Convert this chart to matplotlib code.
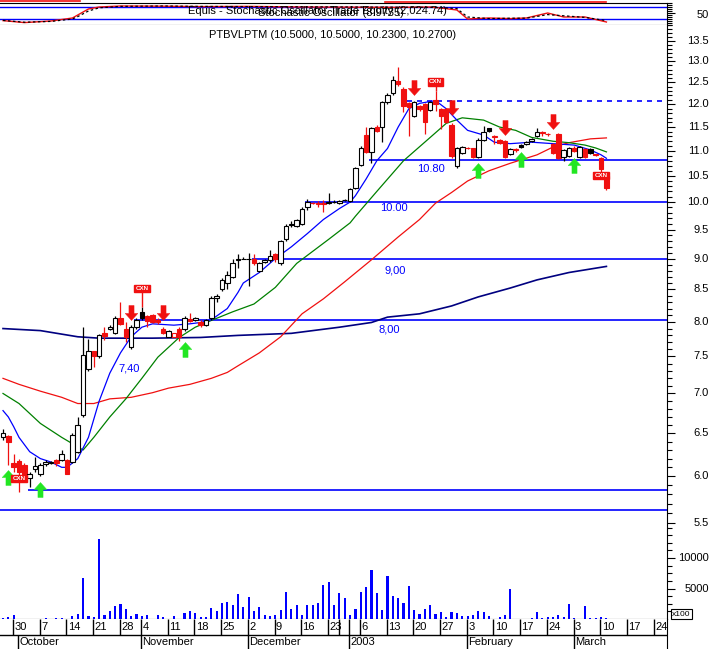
import numpy as np
import pandas as pd
import matplotlib
matplotlib.use("Agg")
import matplotlib.pyplot as plt
from matplotlib.lines import Line2D
from matplotlib.path import Path
from matplotlib.ticker import FixedLocator, NullFormatter

plt.rcParams['font.family'] = ['Liberation Sans', 'DejaVu Sans']

# Trading calendar (holidays removed so the week ticks land where they should)
first_day = "2002-09-26"
last_day = "2003-03-28"
holidays = ["2002-11-01", "2002-12-25", "2002-12-26", "2002-12-27", "2003-01-01"]

# Daily candles, 26 Sep 2002 .. 11 Mar 2003
opens = [
    6.46, 6.47, 6.15, 6.17, 6.13, 5.98, 6.08, 6.03, 6.14, 6.15,
    6.18, 6.18, 6.18, 6.16, 6.28, 6.72, 7.33, 7.57, 7.50, 7.83,
    7.90, 7.83, 8.05, 7.90, 7.64, 7.93, 8.15, 8.08, 8.10, 8.03,
    7.90, 7.78, 7.78, 7.90, 7.89, 8.04, 8.03, 8.00, 7.95, 8.05,
    8.37, 8.50, 8.60, 8.70, 8.98, 9.00, 9.00, 9.00, 8.80, 8.95,
    8.97, 9.08, 8.93, 9.33, 9.58, 9.57, 9.60, 9.90, 9.99, 9.98,
    9.98, 9.98, 10.00, 9.98, 10.03, 10.02, 10.26, 10.72, 11.33, 10.98,
    11.50, 11.50, 12.05, 12.25, 12.52, 12.35, 12.02, 11.75, 11.95, 12.00,
    11.88, 12.10, 11.90, 11.90, 11.55, 10.70, 10.96, 11.07, 11.06, 10.87,
    11.23, 11.47, 11.29, 11.23, 11.20, 10.94, 11.03, 11.12, 11.15, 11.20,
    11.30, 11.39, 11.36, 11.15, 11.35, 10.87, 10.89, 11.06, 10.87, 11.04,
    11.04, 10.93, 10.85, 10.50]
highs = [
    6.55, 6.48, 6.25, 6.20, 6.15, 6.05, 6.22, 6.15, 6.18, 6.17,
    6.20, 6.30, 6.20, 6.50, 6.70, 7.92, 7.75, 7.58, 7.82, 7.93,
    7.95, 8.08, 8.30, 8.00, 7.95, 8.05, 8.22, 8.10, 8.12, 8.05,
    7.92, 7.88, 7.84, 7.92, 8.08, 8.13, 8.07, 8.02, 8.04, 8.40,
    8.42, 8.68, 8.80, 9.00, 9.08, 9.02, 9.10, 9.08, 8.95, 9.00,
    9.15, 9.10, 9.32, 9.60, 9.65, 9.69, 9.90, 10.05, 10.00, 10.02,
    10.03, 10.17, 10.03, 10.04, 10.06, 10.26, 10.67, 11.10, 11.50, 11.50,
    11.55, 12.07, 12.25, 12.65, 12.85, 12.38, 12.05, 12.08, 11.98, 12.02,
    12.08, 12.30, 11.92, 11.92, 11.58, 11.08, 11.10, 11.08, 11.07, 11.26,
    11.52, 11.49, 11.33, 11.24, 11.22, 11.06, 11.06, 11.14, 11.20, 11.27,
    11.48, 11.42, 11.38, 11.17, 11.37, 11.04, 11.08, 11.10, 11.10, 11.06,
    11.05, 10.94, 10.87, 10.50]
lows = [
    6.42, 6.13, 6.05, 5.83, 5.98, 5.88, 6.05, 6.00, 6.12, 6.14,
    6.12, 6.17, 6.02, 6.15, 6.26, 6.70, 7.30, 7.35, 7.48, 7.73,
    7.88, 7.82, 7.95, 7.70, 7.60, 7.90, 8.03, 7.93, 7.98, 7.97,
    7.82, 7.77, 7.77, 7.72, 7.87, 8.00, 8.01, 7.93, 7.94, 8.03,
    8.30, 8.48, 8.50, 8.68, 8.85, 8.99, 8.55, 8.90, 8.78, 8.93,
    8.95, 8.95, 8.90, 9.30, 9.55, 9.55, 9.58, 9.85, 9.96, 9.90,
    9.82, 9.97, 9.98, 9.96, 10.02, 10.00, 10.24, 10.70, 10.95, 10.75,
    11.40, 11.18, 12.00, 12.20, 12.42, 11.82, 11.32, 11.72, 11.85, 11.35,
    11.85, 11.85, 11.45, 11.58, 10.85, 10.65, 10.94, 11.04, 10.85, 10.85,
    11.20, 11.40, 11.15, 11.15, 10.85, 10.92, 10.98, 11.06, 11.13, 11.18,
    11.28, 11.30, 11.30, 10.93, 10.83, 10.80, 10.87, 10.97, 10.85, 10.85,
    10.94, 10.90, 10.55, 10.23]
closes = [
    6.50, 6.40, 6.10, 6.05, 6.00, 6.02, 6.12, 6.13, 6.16, 6.16,
    6.15, 6.25, 6.03, 6.48, 6.60, 7.52, 7.57, 7.50, 7.80, 7.79,
    7.93, 8.05, 7.97, 7.77, 7.92, 8.03, 8.05, 8.01, 8.00, 7.99,
    7.84, 7.87, 7.83, 7.77, 8.05, 8.01, 8.05, 7.95, 8.02, 8.37,
    8.40, 8.65, 8.73, 8.92, 9.00, 9.00, 9.00, 8.92, 8.93, 8.98,
    9.05, 9.00, 9.30, 9.57, 9.60, 9.67, 9.88, 10.00, 9.98, 9.97,
    9.96, 10.00, 10.00, 10.02, 10.04, 10.24, 10.65, 11.06, 10.98, 11.48,
    11.42, 12.05, 12.20, 12.55, 12.45, 11.95, 11.93, 12.05, 11.90, 11.60,
    12.05, 12.00, 11.75, 11.60, 10.90, 11.05, 11.08, 11.06, 10.87, 11.23,
    11.40, 11.42, 11.31, 11.17, 10.87, 11.04, 11.02, 11.08, 11.18, 11.25,
    11.40, 11.38, 11.35, 10.95, 10.85, 11.02, 11.06, 10.99, 11.08, 10.87,
    10.96, 10.92, 10.63, 10.27]
# volume in hundreds
volume = [
    160, 270, 700, 0, 55, 55, 55, 55, 110, 55,
    110, 110, 0, 540, 860, 6670, 540, 320, 13060, 650,
    1240, 2200, 2470, 1610, 540, 810, 540, 650, 55, 650,
    320, 0, 540, 55, 970, 1340, 970, 270, 320, 1770,
    1340, 2580, 2800, 2310, 4090, 1940, 3660, 1340, 2040, 700,
    540, 650, 1400, 4350, 1670, 2370, 650, 2370, 2310, 2690,
    5540, 6080, 2310, 4300, 3390, 650, 1670, 4350, 5270, 8120,
    4300, 1500, 7040, 3760, 3390, 2580, 5480, 1500, 810, 1610,
    2370, 810, 1180, 320, 1180, 1020, 540, 540, 650, 1240,
    1180, 430, 0, 320, 650, 5000, 55, 55, 55, 160,
    1180, 160, 320, 320, 650, 380, 2420, 160, 55, 2150,
    160, 160, 270, 160]

# Moving averages (day index, value)
blue_days = [0, 1, 2, 3, 5, 7, 9, 11, 12, 14, 16, 18, 20, 22, 24, 26, 28, 32, 35, 37,
             39, 42, 44, 45, 48, 51, 54, 57, 60, 63, 65, 66, 68, 70, 72, 74, 76, 78, 81, 83,
             85, 87, 90, 92, 95, 99, 103, 107, 110, 112, 113]
blue_vals = [6.78, 6.70, 6.58, 6.45, 6.28, 6.20, 6.16, 6.10, 6.10, 6.20, 6.45, 6.90, 7.27, 7.55, 7.78, 7.92, 7.97, 7.95, 7.97, 7.99,
             8.03, 8.20, 8.45, 8.60, 8.77, 9.00, 9.20, 9.43, 9.68, 9.88, 10.00, 10.12, 10.44, 10.80, 11.05, 11.50, 11.90, 12.02, 12.08, 11.90,
             11.65, 11.43, 11.33, 11.18, 11.15, 11.18, 11.15, 11.12, 11.02, 10.92, 10.85]
green_days = [0, 3, 7, 11, 15, 17, 20, 23, 26, 29, 33, 36, 39, 43, 47, 51, 55, 61, 65, 66,
              70, 75, 80, 83, 86, 90, 93, 96, 99, 103, 106, 109, 111, 113]
green_vals = [7.00, 6.87, 6.62, 6.45, 6.30, 6.45, 6.70, 6.93, 7.20, 7.49, 7.77, 7.92, 8.02, 8.15, 8.27, 8.53, 8.92, 9.33, 9.62, 9.74,
              10.20, 10.80, 11.28, 11.58, 11.70, 11.65, 11.50, 11.43, 11.28, 11.20, 11.17, 11.12, 11.06, 10.98]
red_days = [0, 3, 7, 11, 14, 17, 20, 24, 28, 31, 35, 39, 42, 44, 48, 52, 56, 60, 64, 69,
            74, 78, 81, 84, 87, 91, 95, 100, 103, 106, 110, 113]
red_vals = [7.20, 7.12, 7.03, 6.95, 6.87, 6.87, 6.93, 6.95, 7.01, 7.07, 7.12, 7.20, 7.28, 7.37, 7.55, 7.78, 8.12, 8.35, 8.62, 8.98,
            9.37, 9.68, 9.98, 10.18, 10.40, 10.60, 10.75, 10.92, 11.08, 11.17, 11.25, 11.27]
navy_days = [0, 7, 14, 18, 28, 37, 44, 54, 63, 69, 72, 78, 84, 89, 95, 100, 106, 113]
navy_vals = [7.90, 7.87, 7.78, 7.76, 7.76, 7.77, 7.80, 7.83, 7.92, 7.99, 8.07, 8.12, 8.24, 8.38, 8.52, 8.65, 8.77, 8.87]

# Stochastic panel
stoch_days = [0, 4, 9, 13, 14, 16, 18, 22, 30, 37, 46, 56, 66, 74, 80, 82, 85, 87, 91, 95, 98, 102, 105, 109, 113]
stoch_k = [12, 2, 10, 25, 40, 70, 80, 85, 84, 82, 83, 80, 79, 78, 80, 75, 65, 20, 25, 22, 25, 50, 30, 30, 5]
stoch_d = [13, 4, 8, 20, 32, 60, 76, 83, 85, 83, 82, 81, 80, 79, 78, 77, 72, 30, 22, 24, 24, 42, 36, 28, 12]

# Support / resistance lines
level_prices = [12.08, 10.82, 10.00, 9.00, 8.02, 5.85, 5.63]
level_starts = [76, 69, 57, 47, 25, 5, -1]
level_dashed = [True, False, False, False, False, False, False]
label_texts = ["10.80", "10.00", "9,00", "8,00", "7,40"]
label_days = [80.1, 73.2, 73.4, 72.3, 23.6]
label_prices = [10.63, 9.89, 8.81, 7.88, 7.34]

# Signals
sell_days = [24, 30, 77, 84, 94, 103]
sell_tips = [8.03, 8.02, 12.21, 11.76, 11.33, 11.46]
buy_days = [1, 7, 34, 89, 97, 107]
buy_tips = [6.07, 5.94, 7.71, 10.76, 10.98, 10.86]
cxn_days = [3, 26, 81, 112]
cxn_prices = [5.975, 8.51, 12.51, 10.51]

RED = '#f01010'
BLUE = '#0000ff'
GREEN = '#008000'
NAVY = '#000080'
ARROW_GREEN = '#22e622'

days = pd.bdate_range(first_day, last_day)
days = days[~days.isin(pd.to_datetime(holidays))]
n = len(closes)

W, H = 714.0, 649.0
x_lo, x_hi = -3 / 5.34, 664 / 5.34

fig = plt.figure(figsize=(7.14, 6.49), dpi=100)
fig.patch.set_facecolor('white')


def panel(top_px, bottom_px):
    a = fig.add_axes([0, 1 - bottom_px / H, 667 / W, (bottom_px - top_px) / H])
    a.set_xlim(x_lo, x_hi)
    a.set_xticks([])
    a.spines['left'].set_visible(False)
    a.yaxis.tick_right()
    a.tick_params(axis='y', which='major', length=5.8, width=0.8, direction='out',
                  labelright=False, labelleft=False)
    a.tick_params(axis='y', which='minor', length=3.6, width=0.8, direction='out',
                  labelright=False, labelleft=False)
    return a


def right_label(a, value, text, dy=0):
    a.annotate(text, xy=(1, value), xycoords=('axes fraction', 'data'),
               xytext=(30, dy), textcoords='offset points', ha='right', va='center',
               fontsize=8, annotation_clip=False)


ax_s = panel(3, 25)
ax = panel(25, 527)
ax_v = panel(527, 619)
ax_d = panel(619, 649)

# --- stochastic panel
ax_s.set_ylim(-10, 100)
ax_s.axhline(20, color=BLUE, lw=1)
ax_s.axhline(80, color=BLUE, lw=1)
ax_s.plot(stoch_days, stoch_k, color=RED, lw=1)
ax_s.plot(stoch_days, stoch_d, color='black', lw=0.9, ls=(0, (2, 2)))
ax_s.yaxis.set_major_locator(FixedLocator([50]))
ax_s.yaxis.set_minor_locator(FixedLocator(np.arange(-10, 101, 10)))
right_label(ax_s, 50, "50", dy=-1.5)

# --- price panel
ax.set_yscale('log')
ax.set_ylim(5.458, 13.909)
ax.spines['top'].set_visible(False)
ax.spines['bottom'].set_visible(False)
ax.yaxis.set_major_locator(FixedLocator(np.arange(5.5, 13.6, 0.5)))
ax.yaxis.set_minor_locator(FixedLocator(np.arange(5.5, 13.95, 0.1)))
ax.yaxis.set_minor_formatter(NullFormatter())
for v in np.arange(5.5, 13.6, 0.5):
    right_label(ax, v, f"{v:.1f}")

for p, s, dashed in zip(level_prices, level_starts, level_dashed):
    ax.hlines(p, s - 0.4, x_hi, color=BLUE, lw=1.2, ls=(0, (3, 3)) if dashed else '-', zorder=2)
for t, d, p in zip(label_texts, label_days, label_prices):
    ax.text(d, p, t, color=BLUE, fontsize=8, ha='center', va='center', zorder=2)

ax.plot(navy_days, navy_vals, color=NAVY, lw=1.2, zorder=2)
ax.plot(red_days, red_vals, color=RED, lw=0.9, zorder=2)
ax.plot(green_days, green_vals, color=GREEN, lw=0.9, zorder=2)
ax.plot(blue_days, blue_vals, color=BLUE, lw=0.9, zorder=2)

# candles: filled when close < open, red when close is below previous close
for i in range(n):
    o, h, l, c = opens[i], highs[i], lows[i], closes[i]
    col = RED if (i > 0 and c < closes[i - 1]) else 'black'
    face = col if c < o else 'white'
    ax.vlines(i, l, h, color=col, lw=0.9, zorder=3)
    ax.bar(i, abs(c - o), width=0.85, bottom=min(o, c), color=face,
           edgecolor=col, linewidth=0.8, zorder=4)

arrow_down = Path([(0, 0), (0.42, 0.47), (0.17, 0.47), (0.17, 1), (-0.17, 1),
                   (-0.17, 0.47), (-0.42, 0.47), (0, 0)], closed=True)
arrow_up = Path([(x, -y) for x, y in arrow_down.vertices], closed=True)
ax.plot(sell_days, sell_tips, ls='none', marker=arrow_down, markersize=21.6,
        color=RED, mec=RED, mew=0.3, zorder=6)
ax.plot(buy_days, buy_tips, ls='none', marker=arrow_up, markersize=21.6,
        color=ARROW_GREEN, mec=ARROW_GREEN, mew=0.3, zorder=6)

for d, p in zip(cxn_days, cxn_prices):
    if p > highs[d]:
        ax.vlines(d, highs[d], p, color=RED, lw=1, zorder=5)
    elif p < lows[d]:
        ax.vlines(d, p, lows[d], color=RED, lw=1, zorder=5)
    ax.text(d, p, "CXN", fontsize=4.5, color='white', weight='bold', ha='center', va='center',
            bbox=dict(boxstyle='square,pad=0.2', fc=RED, ec=RED), zorder=7)

# --- volume panel
ax_v.set_ylim(0, 15100)
ax_v.spines['top'].set_visible(False)
ax_v.bar(range(n), volume, width=0.4, color=BLUE, zorder=3)
ax_v.yaxis.set_major_locator(FixedLocator([5000, 10000]))
ax_v.yaxis.set_minor_locator(FixedLocator(np.arange(1250, 15100, 1250)))
for v in [5000, 10000]:
    right_label(ax_v, v, str(v))
fig.text(681 / W, 1 - 614 / H, "x100", fontsize=6, ha='center', va='center',
         bbox=dict(boxstyle='square,pad=0.15', fc='white', ec='black', lw=0.8))

# --- date axis
ax_d.set_ylim(0, 30)
ax_d.spines['top'].set_visible(False)
ax_d.spines['bottom'].set_visible(False)
ax_d.tick_params(axis='y', which='both', right=False)
ax_d.set_yticks([])
ax_d.axhline(14, color='black', lw=1)
for i in range(1, len(days)):
    d, p = days[i], days[i - 1]
    xpos = i - 0.15
    if xpos > x_hi:
        break
    if d.month != p.month:
        ax_d.vlines(xpos, 0, 30 if d.year != p.year else 14, color='black', lw=1)
        name = str(d.year) if d.month == 1 else d.strftime('%B')
        ax_d.text(xpos + 0.25, 7, name, fontsize=8, ha='left', va='center')
    if d.weekday() < p.weekday():
        ax_d.vlines(xpos, 14, 30, color='black', lw=1)
        near_year = any(days[j].year != days[j - 1].year for j in range(i + 1, min(i + 3, len(days))))
        if not near_year:
            ax_d.text(xpos + 0.25, 22, str(d.day), fontsize=8, ha='left', va='center')

# --- titles (the two indicator captions overlap in the original too)
fig.text(188 / W, 1 - 11 / H, "Equis - Stochastic Oscillator Trade Equity (2,024.74)",
         fontsize=8, ha='left', va='center')
fig.text(258 / W, 1 - 13.5 / H, "Stochastic Oscillator (8.9735)", fontsize=8, ha='left', va='center')
last = n - 1
fig.text(333 / W, 1 - 35 / H,
         f"PTBVLPTM ({opens[last]:.4f}, {highs[last]:.4f}, {lows[last]:.4f}, {closes[last]:.4f})",
         fontsize=8, ha='center', va='center')
fig.add_artist(Line2D([0, 80 / W], [1 - 1 / H] * 2, color=RED, lw=1.2))
fig.add_artist(Line2D([385 / W, 606 / W], [1 - 1.5 / H] * 2, color=RED, lw=1.2))

fig.savefig("out.png", dpi=100)
